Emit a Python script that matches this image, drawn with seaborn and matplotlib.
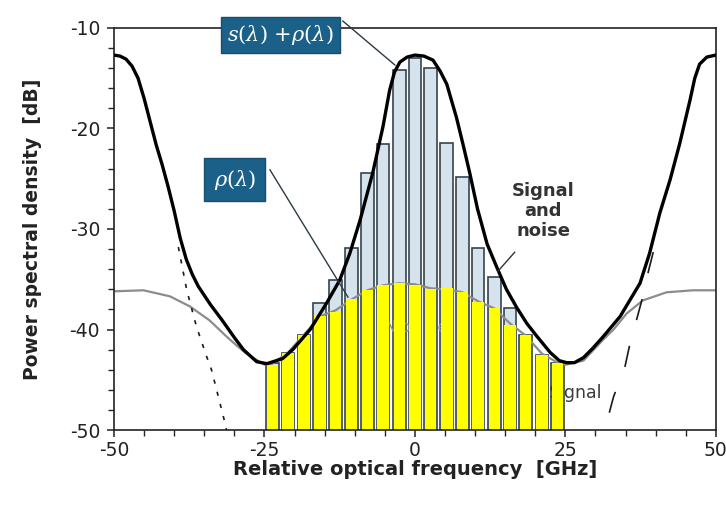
import numpy as np
import matplotlib
matplotlib.use("Agg")
import matplotlib.pyplot as plt
import seaborn as sns

# ================================
# Data
# ================================
# signal + noise envelope (black)
total_freq = [-50, -49, -48, -47, -46, -45, -44, -43, -42, -41, -40, -39, -38, -37,
              -36, -35, -34, -32, -30, -28.5, -26.3, -24.6, -22.0, -20.3, -17.4, -14.7,
              -12.5, -10.8, -9.1, -7.0, -5.3, -4.2, -3.4, -2.5, -1.3, 0, 1.5, 3.0, 4.2,
              5.3, 6.9, 8.0, 9.1, 10.4, 12.0, 13.6, 15.2, 16.9, 18.6, 20.3, 22.5, 24.0,
              25.2, 26.5, 28.0, 29.5, 31.3, 34.1, 37.4, 39.0, 40.7, 42.4, 44.0, 45.7,
              46.5, 47.3, 48.5, 50]
total_db = [-12.7, -12.8, -13.1, -13.8, -15.0, -17.0, -19.3, -21.6, -23.6, -25.8, -28.2, -30.9, -33.0, -34.5,
            -35.7, -36.6, -37.5, -39.1, -40.8, -42.0, -43.2, -43.4, -42.9, -42.0, -40.0, -37.4,
            -35.1, -32.4, -29.1, -24.4, -19.8, -16.2, -14.4, -13.4, -12.9, -12.7, -12.8, -13.2, -14.3,
            -15.6, -18.9, -21.6, -24.4, -28.0, -31.5, -33.8, -36.0, -37.8, -39.4, -40.7, -42.3, -43.1,
            -43.3, -43.3, -42.8, -41.9, -40.7, -38.7, -35.4, -32.4, -28.4, -25.1, -21.5, -17.2,
            -15.0, -13.6, -12.9, -12.7]

# noise floor (gray)
noise_freq = [-50, -45.1, -40.7, -37.4, -34.1, -31.3, -29.6, -28.0, -25, -23.7, -21.1,
              -18.4, -15.8, -13.2, -10.5, -7.9, -5.3, -2.6, 0, 2.6, 5.3, 7.9, 10.5,
              13.2, 15.8, 18.4, 21.1, 23.7, 25, 28.0, 31.3, 33.0, 35.2, 37.9, 41.8, 46.2, 50]
noise_db = [-36.2, -36.1, -36.7, -37.7, -39.1, -40.7, -41.6, -42.4, -43.5, -43.4, -42.3,
            -40.5, -38.7, -38.1, -37.0, -36.1, -35.6, -35.4, -35.5, -35.9, -36.0, -36.3, -37.2,
            -37.9, -39.4, -40.6, -42.4, -43.3, -43.5, -43.1, -41.0, -40.0, -38.4, -37.1, -36.3, -36.1, -36.1]

# neighbouring-channel signal tails (listed top to bottom)
sig_left_freq = [-39.3, -37.9, -36.3, -34.6, -33.8, -32.4, -31.6, -31.2]
sig_left_db = [-31.8, -36.1, -39.7, -42.7, -44.0, -47.3, -49.2, -50.3]
sig_right_freq = [39.6, 38.8, 37.7, 36.8, 35.7, 34.9, 33.0, 32.2, 31.8]
sig_right_db = [-32.3, -34.2, -37.1, -39.1, -41.5, -43.7, -46.7, -48.5, -49.5]

# integration bins
bin_freq = [-23.7, -21.1, -18.4, -15.8, -13.2, -10.5, -7.9, -5.3, -2.6, 0,
            2.6, 5.3, 7.9, 10.5, 13.2, 15.8, 18.4, 21.1, 23.7]
bin_total_db = [-43.3, -42.3, -40.5, -37.4, -35.1, -31.9, -24.4, -21.5, -14.2, -13.0,
                -14.0, -21.4, -24.8, -31.9, -34.8, -37.9, -40.5, -42.5, -43.3]
bin_noise_db = [-43.5, -42.3, -40.5, -38.7, -38.3, -37.0, -36.1, -35.6, -35.4, -35.6,
                -36.0, -35.9, -36.3, -37.3, -37.9, -39.6, -40.5, -42.5, -43.3]

x_ticks = [-50, -25, 0, 25, 50]
y_ticks = [-10, -20, -30, -40, -50]
floor_db = -50

# ================================
# Style
# ================================
sns.set_style("ticks")
plt.rcParams['font.family'] = ['DejaVu Sans']
plt.rcParams['axes.unicode_minus'] = False
plt.rcParams['mathtext.fontset'] = 'dejavuserif'

fig = plt.figure(figsize=(7.26, 5.08), dpi=100)
ax = fig.add_axes([0.157, 0.1535, 0.829, 0.7915])

box_color = "#1b6088"

# ================================
# Bars
# ================================
ax.bar(bin_freq, np.array(bin_total_db) - floor_db, bottom=floor_db, width=2.1,
       color="#d6e2ec", edgecolor="#34444f", linewidth=1.2, zorder=1)
ax.text(0.2, -39.8, "N o i s e", ha="center", va="center", fontsize=11,
        color="#8a8f94", zorder=1.6)
ax.text(22.3, -46.3, "Signal", ha="left", va="center", fontsize=12.5,
        color="#3a3a3a", zorder=1.6)
ax.bar(bin_freq, np.array(bin_noise_db) - floor_db, bottom=floor_db, width=1.9,
       color="#ffff00", edgecolor="none", zorder=2)

# ================================
# Curves
# ================================
sns.lineplot(x=noise_freq, y=noise_db, ax=ax, color="#8c8c8c", linewidth=1.6,
             estimator=None, sort=False, zorder=1.8)
sns.lineplot(x=sig_left_freq, y=sig_left_db, ax=ax, color="#1a1a1a", linewidth=1.2,
             estimator=None, sort=False, zorder=3)
ax.lines[-1].set_dashes([2.5, 5])
sns.lineplot(x=sig_right_freq, y=sig_right_db, ax=ax, color="#1a1a1a", linewidth=1.2,
             estimator=None, sort=False, zorder=3)
ax.lines[-1].set_dashes([13, 16])
sns.lineplot(x=total_freq, y=total_db, ax=ax, color="black", linewidth=2.4,
             estimator=None, sort=False, zorder=4)

# ================================
# Annotations
# ================================
ax.plot([-12.0, -3.3], [-9.3, -13.7], color="#2b3a44", linewidth=1.0,
        clip_on=False, zorder=5)
ax.text(-22.3, -10.7, r"$s(\lambda)$ +$\rho(\lambda)$", ha="center", va="center",
        fontsize=15, color="white", zorder=6,
        bbox=dict(boxstyle="square,pad=0.3", fc=box_color, ec="#164e6e"))

ax.plot([-24.1, -11.1], [-24.1, -36.8], color="#2b3a44", linewidth=1.0, zorder=5)
ax.text(-29.9, -25.1, r"$\rho(\lambda)$", ha="center", va="center",
        fontsize=15, color="white", zorder=6,
        bbox=dict(boxstyle="square,pad=0.45", fc=box_color, ec="#164e6e"))

ax.text(21.3, -28.2, "Signal\nand\nnoise", ha="center", va="center", fontsize=13,
        fontweight="bold", color="#333333", linespacing=1.15, zorder=6)
ax.plot([16.6, 13.8], [-32.3, -34.2], color="#333333", linewidth=1.0, zorder=6)

# ================================
# Axes
# ================================
ax.set_xlim(-50, 50)
ax.set_ylim(-50, -10)
ax.set_xticks(x_ticks)
ax.set_yticks(y_ticks)
ax.set_xticks(np.arange(-50, 51, 5), minor=True)
ax.set_yticks(np.arange(-50, -9, 2), minor=True)
ax.tick_params(axis="both", which="major", direction="out", length=5, width=1.1,
               labelsize=13.5, colors="#222222", pad=3)
ax.tick_params(axis="y", which="major", pad=5)
ax.tick_params(axis="both", which="minor", direction="out", length=4, width=1.0)
for s in ax.spines.values():
    s.set_color("#222222")
    s.set_linewidth(1.2)

ax.set_xlabel("Relative optical frequency  [GHz]", fontsize=14, fontweight="bold",
              color="#222222", labelpad=0)
ax.set_ylabel("Power spectral density  [dB]", fontsize=13.5, fontweight="bold",
              color="#222222", labelpad=20)

plt.savefig("out.png", dpi=100)
